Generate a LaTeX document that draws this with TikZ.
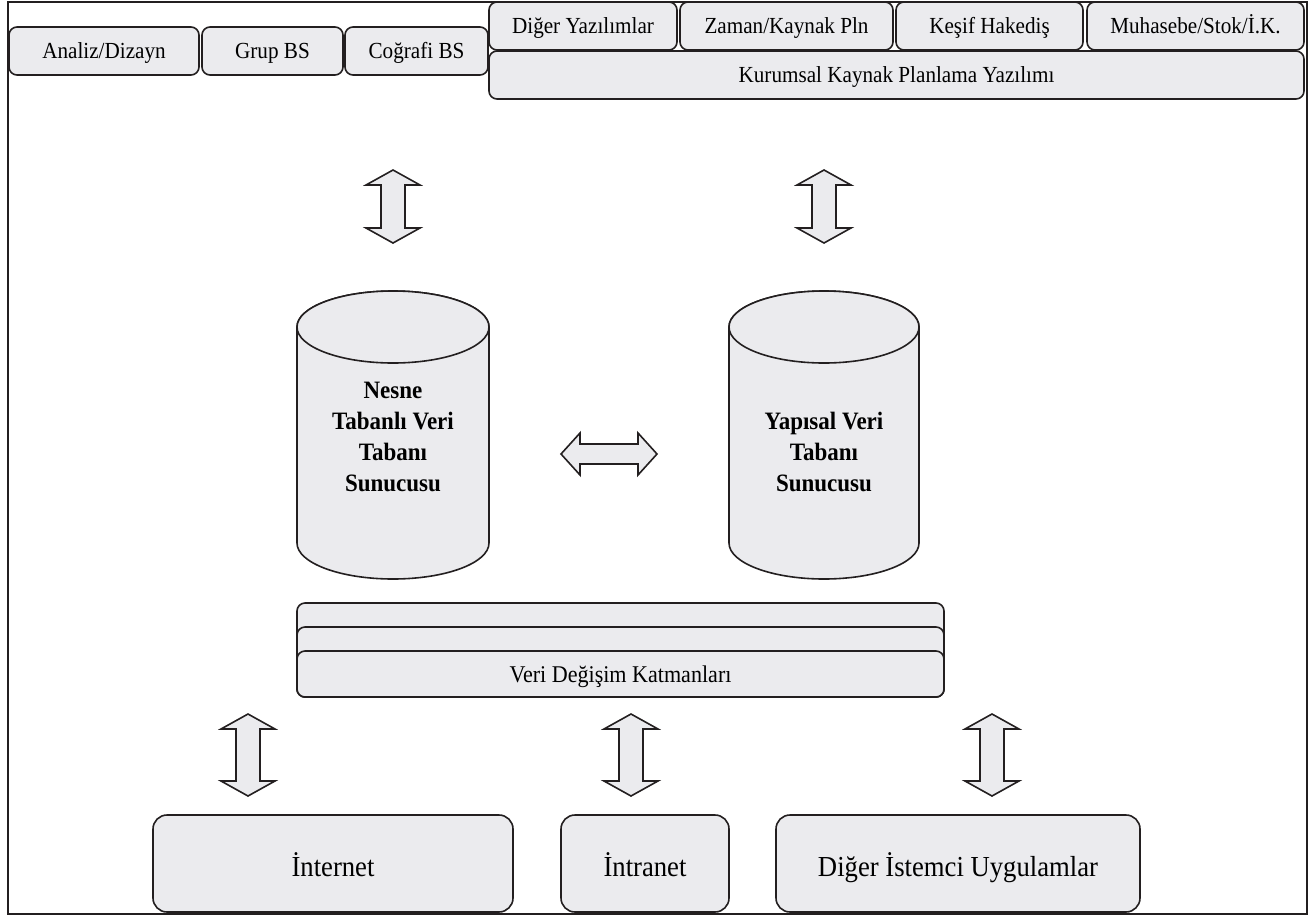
\documentclass[tikz,border=0pt]{standalone}
\usepackage{fontspec}
\setmainfont{Liberation Serif}[FakeStretch=0.92]
\definecolor{boxfill}{RGB}{235,235,238}
\definecolor{linec}{RGB}{35,31,32}
\tikzset{
  every node/.style={inner sep=0pt, outer sep=0pt},
  box/.style={draw=linec, line width=1.6pt, fill=boxfill, rounded corners=8pt, font=\fontsize{23}{27}\selectfont, text height=15pt, text depth=0pt},
  bigbox/.style={box, rounded corners=14pt, font=\fontsize{29}{34}\selectfont, text height=26pt},
  cyl/.style={draw=linec, line width=1.6pt, fill=boxfill},
  cyltext/.style={align=center, font=\fontsize{25}{31}\selectfont\bfseries},
  dblarrow/.style={draw=linec, line width=1.6pt, fill=boxfill, line join=miter},
  frame/.style={draw=linec, line width=1.4pt}
}
\newcommand\vArrow[3]{%
  \draw[dblarrow] (#1,#2) -- ({#1+27},{#2+15}) -- ({#1+12},{#2+15}) -- ({#1+12},{#3-15}) -- ({#1+27},{#3-15}) -- (#1,#3) -- ({#1-27},{#3-15}) -- ({#1-12},{#3-15}) -- ({#1-12},{#2+15}) -- ({#1-27},{#2+15}) -- cycle;}
\begin{document}
\begin{tikzpicture}[x=1pt,y=-1pt]
\useasboundingbox (0,0) rectangle (1316,916);
\draw[frame] (8,2) rectangle (1307,914);
% top left boxes
\node[box, minimum width=190, minimum height=48] (analiz) at (104,51) {Analiz/Dizayn};
\node[box, minimum width=141, minimum height=48] (grup) at (272.5,51) {Grup BS};
\node[box, minimum width=143, minimum height=48] (cog) at (416.5,51) {Coğrafi BS};
% top right boxes
\node[box, minimum width=188, minimum height=48] (diger) at (583,26) {Diğer Yazılımlar};
\node[box, minimum width=213, minimum height=48] (zaman) at (786.5,26) {Zaman/Kaynak Pln};
\node[box, minimum width=187, minimum height=48] (kesif) at (989.5,26) {Keşif Hakediş};
\node[box, minimum width=217, minimum height=48] (muh) at (1195.5,26) {Muhasebe/Stok/İ.K.};
\node[box, minimum width=815, minimum height=48] (kkpy) at (896.5,75) {Kurumsal Kaynak Planlama Yazılımı};
% vertical arrows top
\vArrow{393}{170}{243}
\vArrow{824}{170}{243}
% cylinders
\draw[cyl] (297,327) -- (297,543) arc[start angle=180, end angle=0, x radius=96, y radius=36] -- (489,327) arc[start angle=0, end angle=-180, x radius=96, y radius=36] -- cycle;
\draw[cyl] (393,327) ellipse[x radius=96, y radius=36];
\draw[cyl] (729,327) -- (729,543) arc[start angle=180, end angle=0, x radius=95, y radius=36] -- (919,327) arc[start angle=0, end angle=-180, x radius=95, y radius=36] -- cycle;
\draw[cyl] (824,327) ellipse[x radius=95, y radius=36];
\node[cyltext] (nesne) at (393,437) {Nesne\\Tabanlı Veri\\Tabanı\\Sunucusu};
\node[cyltext] (yapisal) at (824,452) {Yapısal Veri\\Tabanı\\Sunucusu};
% horizontal arrow
\draw[dblarrow] (561,454) -- (580,433) -- (580,444) -- (638,444) -- (638,433) -- (657,454) -- (638,475) -- (638,464) -- (580,464) -- (580,475) -- cycle;
% layers
\node[box, minimum width=647, minimum height=94] (lay1) at (620.5,650) {};
\node[box, minimum width=647, minimum height=70] (lay2) at (620.5,662) {};
\node[box, minimum width=647, minimum height=46, font=\fontsize{24}{28}\selectfont, text height=16pt] (lay3) at (620.5,674) {Veri Değişim Katmanları};
% bottom arrows
\vArrow{248}{714}{796}
\vArrow{631}{714}{796}
\vArrow{992}{714}{796}
% bottom boxes
\node[bigbox, minimum width=360, minimum height=97] (internet) at (333,863.5) {İnternet};
\node[bigbox, minimum width=168, minimum height=97] (intranet) at (645,863.5) {İntranet};
\node[bigbox, minimum width=364, minimum height=97] (istemci) at (958,863.5) {Diğer İstemci Uygulamlar};
\end{tikzpicture}
\end{document}
